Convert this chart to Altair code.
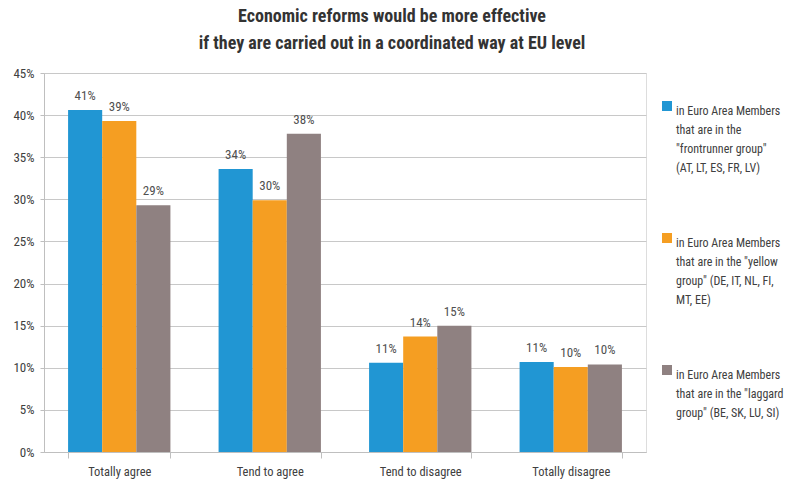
import altair as alt
import pandas as pd

categories = ["Totally agree", "Tend to agree", "Tend to disagree", "Totally disagree"]
groups = ["frontrunner", "yellow", "laggard"]
frontrunner = [0.406, 0.336, 0.106, 0.107]
yellow = [0.393, 0.299, 0.137, 0.101]
laggard = [0.293, 0.378, 0.150, 0.104]
group_labels = [
    "in Euro Area Members|that are in the|\"frontrunner group\"|(AT, LT, ES, FR, LV)",
    "in Euro Area Members|that are in the \"yellow|group\" (DE, IT, NL, FI,|MT, EE)",
    "in Euro Area Members|that are in the \"laggard|group\" (BE, SK, LU, SI)",
]
colors = ["#2196d3", "#f59e22", "#8f8181"]
y_ticks = [0, 0.05, 0.10, 0.15, 0.20, 0.25, 0.30, 0.35, 0.40, 0.45]

rows = []
for gi, vals in enumerate([frontrunner, yellow, laggard]):
    for ci, c in enumerate(categories):
        rows.append({"category": c, "group": group_labels[gi], "order": gi, "value": vals[ci]})
df = pd.DataFrame(rows)

FONT = "'Roboto Condensed', 'Liberation Sans Narrow', 'DejaVu Sans Condensed', Roboto, sans-serif"

x = alt.X("category:N", sort=categories, title=None,
          scale=alt.Scale(paddingInner=0.32, paddingOuter=0.16),
          axis=alt.Axis(labelAngle=0, tickBand="extent", tickSize=6, tickColor="#bfbfbf",
                        domainColor="#bfbfbf", labelFont=FONT, labelFontSize=12.5,
                        labelColor="#404040", labelPadding=7))
xo = alt.XOffset("group:N", sort=group_labels, scale=alt.Scale(paddingInner=0, paddingOuter=0))
y = alt.Y("value:Q", title=None, scale=alt.Scale(domain=[0, 0.45], nice=False),
          axis=alt.Axis(format=".0%", values=y_ticks, gridColor="#c8c8c8", domainColor="#bfbfbf",
                        tickColor="#bfbfbf", tickSize=4, labelFont=FONT, labelFontSize=13,
                        labelColor="#404040", labelPadding=6))

bars = alt.Chart(df).mark_bar().encode(
    x=x, xOffset=xo, y=y,
    color=alt.Color("group:N", sort=group_labels,
                    scale=alt.Scale(domain=group_labels, range=colors),
                    legend=alt.Legend(title=None, orient="none", legendX=617, legendY=27,
                                      labelExpr="split(datum.label, '|')",
                                      labelFont=FONT, labelFontSize=12, labelColor="#404040",
                                      labelLimit=300, labelBaseline="top", labelOffset=3,
                                      symbolType="square", symbolSize=100,
                                      symbolStrokeWidth=0, rowPadding=58))
)

labels = alt.Chart(df).mark_text(baseline="bottom", dy=-7, font=FONT, fontSize=13,
                                 color="#505050").encode(
    x=x, xOffset=xo, y=y, text=alt.Text("value:Q", format=".0%"))

chart = alt.layer(bars, labels).properties(
    width=602, height=379,
    autosize=alt.AutoSizeParams(type="none"),
    padding={"left": 44, "top": 73, "right": 140, "bottom": 31},
    title=alt.TitleParams(["Economic reforms would be more effective",
                           "if they are carried out in a coordinated way at EU level"],
                          font=FONT, fontSize=18, fontWeight="bold", color="#333333",
                          anchor="middle", dx=47, offset=14, lineHeight=27),
).configure_view(stroke=None).configure(style={"guide-label": {"lineHeight": 19}})

chart.save("out.html", embed_options={"renderer": "svg", "actions": False})
